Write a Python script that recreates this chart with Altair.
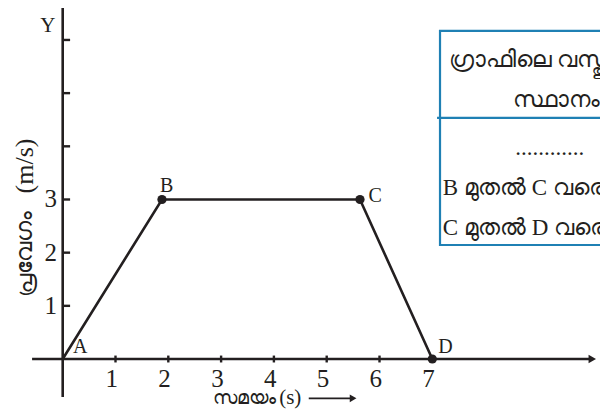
import altair as alt
import pandas as pd

# ---- data ----
times = [0, 1.88, 5.63, 7]
velocities = [0, 3, 3, 0]
point_names = ["A", "B", "C", "D"]
x_ticks = [1, 2, 3, 4, 5, 6, 7]
y_ticks = [1, 2, 3, 4, 5, 6]
y_tick_labels = [1, 2, 3]

# annotation text
y_title_word = "പ്രവേഗം"
y_title_unit = "(m/s)"
x_title_word = "സമയം"
x_title_unit = "(s)"
table_rows = ["ഗ്രാഫിലെ  വസ്തുവിന്റെ", "സ്ഥാനം", "............", "B മുതൽ C വരെ", "C മുതൽ D വരെ"]

INK = "#231f20"
BLUE = "#1f80b4"
SERIF = "Liberation Serif"

xs = alt.Scale(domain=[-1.036, 10.176], nice=False, zero=False)
ys = alt.Scale(domain=[-0.940, 6.601], nice=False, zero=False)


def X(f="x"):
    return alt.X(f"{f}:Q", scale=xs, axis=None)


def Y(f="y"):
    return alt.Y(f"{f}:Q", scale=ys, axis=None)


def txt(df, size, align="center", angle=None, clip=False):
    kw = dict(font=SERIF, fontSize=size, color=INK, align=align, baseline="middle")
    if angle is not None:
        kw["angle"] = angle
    if clip:
        kw["clip"] = True
    return alt.Chart(df).mark_text(**kw).encode(x=X(), y=Y(), text="t:N")


# axes lines
axes_df = pd.DataFrame({
    "x": [-0.58, 0], "x2": [10.0, 0],
    "y": [0, -0.715], "y2": [0, 6.7],
})
axes = alt.Chart(axes_df).mark_rule(color=INK, strokeWidth=2.6, clip=True).encode(
    x=X(), x2="x2:Q", y=Y(), y2="y2:Q")

arrow = alt.Chart(pd.DataFrame({"x": [10.03], "y": [0]})).mark_point(
    shape="triangle-right", filled=True, color=INK, size=75, opacity=1).encode(x=X(), y=Y())

xt_df = pd.DataFrame({"x": x_ticks, "y": [-0.065] * len(x_ticks), "y2": [0.065] * len(x_ticks)})
xtick_marks = alt.Chart(xt_df).mark_rule(color=INK, strokeWidth=2.4).encode(
    x=X(), y=Y(), y2="y2:Q")

yt_df = pd.DataFrame({"y": y_ticks, "x": [0] * len(y_ticks), "x2": [0.14] * len(y_ticks)})
ytick_marks = alt.Chart(yt_df).mark_rule(color=INK, strokeWidth=2.4).encode(
    x=X(), x2="x2:Q", y=Y())

xl_df = pd.DataFrame({"x": [v - 0.07 for v in x_ticks], "y": [-0.38] * len(x_ticks),
                      "t": [str(v) for v in x_ticks]})
xlabels = txt(xl_df, 25)

yl_df = pd.DataFrame({"y": y_tick_labels, "x": [-0.11] * len(y_tick_labels),
                      "t": [str(v) for v in y_tick_labels]})
ylabels = txt(yl_df, 25, align="right")

# the velocity-time line
line_df = pd.DataFrame({"x": times, "y": velocities, "o": list(range(len(times)))})
line = alt.Chart(line_df).mark_line(color=INK, strokeWidth=2.6).encode(
    x=X(), y=Y(), order="o:Q")

pts_df = pd.DataFrame({"x": times[1:], "y": velocities[1:]})
pts = alt.Chart(pts_df).mark_circle(color=INK, size=85, opacity=1).encode(x=X(), y=Y())

# point letters
lab_df = pd.DataFrame({
    "x": [0.33, 1.97, 5.92, 7.25],
    "y": [0.23, 3.25, 3.07, 0.23],
    "t": point_names,
})
letters = txt(lab_df, 20)

ylet = txt(pd.DataFrame({"x": [-0.28], "y": [6.26], "t": ["Y"]}), 21)

# y title (rotated), in two parts
ytitle_w = txt(pd.DataFrame({"x": [-0.72], "y": [1.975], "t": [y_title_word]}), 23, angle=270)
ytitle_u = txt(pd.DataFrame({"x": [-0.72], "y": [3.63], "t": [y_title_unit]}), 26, angle=270)

# x title with its arrow
XT_Y = -0.74
xtitle_w = txt(pd.DataFrame({"x": [2.85], "y": [XT_Y], "t": [x_title_word]}), 19, align="left")
xtitle_u = txt(pd.DataFrame({"x": [4.1], "y": [XT_Y], "t": [x_title_unit]}), 21, align="left")
xarrow_line = alt.Chart(pd.DataFrame({"x": [4.66], "x2": [5.45], "y": [XT_Y]})).mark_rule(
    color=INK, strokeWidth=1.6).encode(x=X(), x2="x2:Q", y=Y())
xarrow_head = alt.Chart(pd.DataFrame({"x": [5.5], "y": [XT_Y]})).mark_point(
    shape="triangle-right", filled=True, color=INK, size=60, opacity=1).encode(x=X(), y=Y())

# table box on the right
box = alt.Chart(pd.DataFrame({"x": [7.146], "x2": [10.6], "y": [2.144], "y2": [6.169]})).mark_rect(
    fill=None, fillOpacity=0, stroke=BLUE, strokeWidth=2.2, clip=True).encode(
    x=X(), x2="x2:Q", y=Y(), y2="y2:Q")
divider = alt.Chart(pd.DataFrame({"x": [7.09], "x2": [10.6], "y": [4.533]})).mark_rule(
    color=BLUE, strokeWidth=2.2, clip=True).encode(x=X(), x2="x2:Q", y=Y())

tbl_df = pd.DataFrame({
    "x": [7.31, 8.53, 8.57, 7.20, 7.20],
    "y": [5.62, 4.87, 3.97, 3.22, 2.46],
    "t": table_rows,
})
tbl = txt(tbl_df, 23, align="left", clip=True)

chart = alt.layer(
    box, divider, axes, arrow, xtick_marks, ytick_marks, line, pts,
    xlabels, ylabels, letters, ylet, ytitle_w, ytitle_u,
    xtitle_w, xtitle_u, xarrow_line, xarrow_head, tbl
).properties(
    width=592, height=401, padding=0,
    autosize=alt.AutoSizeParams(type="none"),
).configure_view(stroke=None)

chart.save("out.html", embed_options={"renderer": "svg", "actions": False})
